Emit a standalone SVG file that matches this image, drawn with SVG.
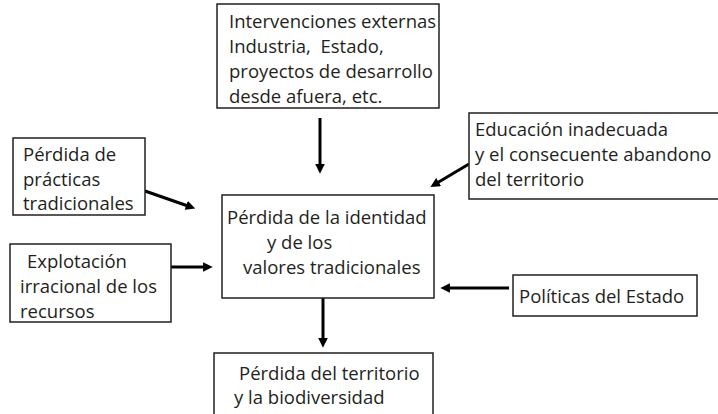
<svg xmlns="http://www.w3.org/2000/svg" width="718" height="414" viewBox="0 0 718 414">
<style>
.box{fill:#fff;stroke:#231f20;stroke-width:1.5}
text{font-family:"Open Sans","Noto Sans",sans-serif;font-size:18.5px;fill:#231f20}
.c{stroke:#000;stroke-width:3;fill:none;marker-end:url(#ah)}
</style>
<defs>
<marker id="ah" viewBox="0 0 10 10" refX="2" refY="5" markerWidth="3.2" markerHeight="3.2" orient="auto" markerUnits="strokeWidth">
<path d="M0,0 L10,5 L0,10 Z" fill="#000"/>
</marker>
</defs>
<g id="connectors">
<line class="c" x1="320" y1="118" x2="320" y2="166"/>
<line class="c" x1="145" y1="191" x2="188" y2="206"/>
<line class="c" x1="171" y1="267" x2="205" y2="267"/>
<line class="c" x1="469" y1="164" x2="437" y2="183"/>
<line class="c" x1="509" y1="288" x2="448" y2="288"/>
<line class="c" x1="323" y1="298" x2="323" y2="340"/>
</g>
<g id="n-top">
<rect class="box" x="217" y="4" width="222" height="104"/>
<text x="229" y="28">Intervenciones externas</text>
<text x="229" y="53">Industria,&#160; Estado,</text>
<text x="229" y="78">proyectos de desarrollo</text>
<text x="229" y="103">desde afuera, etc.</text>
</g>
<g id="n-practicas">
<rect class="box" x="13" y="138" width="132" height="77"/>
<text x="23" y="161">Pérdida de</text>
<text x="23" y="186">prácticas</text>
<text x="23" y="210">tradicionales</text>
</g>
<g id="n-explotacion">
<rect class="box" x="10" y="244" width="161" height="78"/>
<text x="27" y="268">Explotación</text>
<text x="20" y="293">irracional de los</text>
<text x="20" y="318">recursos</text>
</g>
<g id="n-centro">
<rect class="box" x="222" y="195" width="212" height="103"/>
<text x="227" y="224">Pérdida de la identidad</text>
<text x="267" y="249">y de los</text>
<text x="243" y="274">valores tradicionales</text>
</g>
<g id="n-educacion">
<rect class="box" x="469" y="113" width="252" height="86"/>
<text x="475" y="136">Educación inadecuada</text>
<text x="475" y="161">y el consecuente abandono</text>
<text x="475" y="186">del territorio</text>
</g>
<g id="n-politicas">
<rect class="box" x="513" y="275" width="184" height="41"/>
<text x="519" y="303">Políticas del Estado</text>
</g>
<g id="n-bottom">
<rect class="box" x="214" y="353" width="219" height="70"/>
<text x="239" y="380">Pérdida del territorio</text>
<text x="234" y="404">y la biodiversidad</text>
</g>
</svg>
